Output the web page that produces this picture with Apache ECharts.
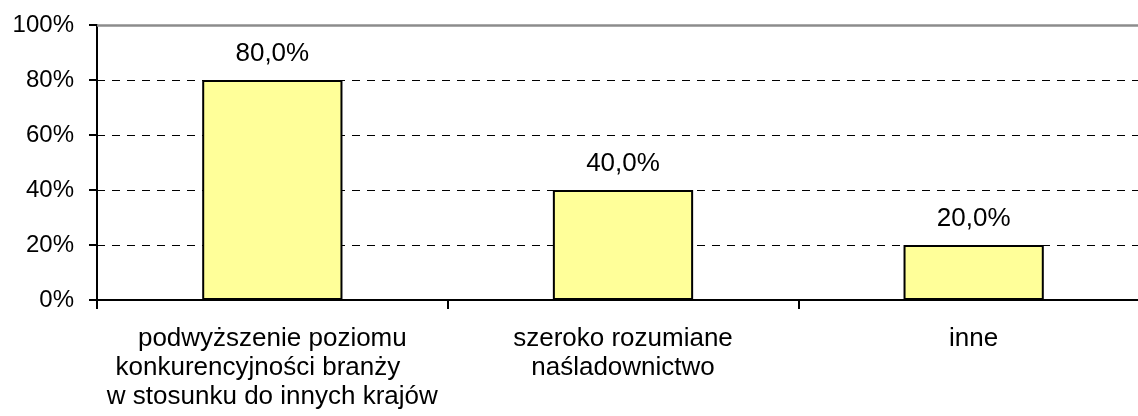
<!DOCTYPE html>
<html>
<head>
<meta charset="utf-8">
<script src="https://cdn.jsdelivr.net/npm/echarts@6/dist/echarts.min.js"></script>
<style>
  html, body { margin: 0; padding: 0; background: #fff; }
  #chart { width: 1138px; height: 416px; }
</style>
</head>
<body>
<div id="chart"></div>
<script>
// Category names (line breaks as in the axis labels)
const categories = [
  'podwyższenie poziomu\nkonkurencyjności branży    \nw stosunku do innych krajów',
  'szeroko rozumiane\nnaśladownictwo',
  'inne'
];
// Share of responses, in percent
const values = [80.0, 40.0, 20.0];
// Value axis range and step
const yMin = 0;
const yMax = 100;
const yStep = 20;

const FONT = '"Liberation Sans", Arial, sans-serif';

const chart = echarts.init(document.getElementById('chart'), null, { renderer: 'canvas' });

chart.setOption({
  animation: false,
  backgroundColor: '#ffffff',
  // the plot runs slightly past the right edge of the canvas
  grid: {
    left: 97, top: 25, width: 1052, height: 275,
    containLabel: false,
    outerBoundsMode: 'none'
  },
  xAxis: {
    type: 'category',
    data: categories,
    boundaryGap: true,
    axisLine: { show: true, lineStyle: { color: '#000', width: 2 } },
    axisTick: { show: true, length: 9, lineStyle: { color: '#000', width: 2 } },
    axisLabel: {
      interval: 0,
      margin: 24,
      color: '#000',
      fontFamily: FONT,
      fontSize: 26,
      lineHeight: 29,
      align: 'center',
      verticalAlign: 'top'
    },
    splitLine: { show: false }
  },
  yAxis: {
    type: 'value',
    min: yMin,
    max: yMax,
    interval: yStep,
    axisLine: { show: true, lineStyle: { color: '#000', width: 2 } },
    axisTick: { show: true, length: 8, lineStyle: { color: '#000', width: 2 } },
    axisLabel: {
      formatter: '{value}%',
      margin: 23,
      color: '#000',
      fontFamily: FONT,
      fontSize: 24
    },
    splitLine: {
      show: true,
      lineStyle: { color: '#000', width: 1, type: [8, 7] }
    }
  },
  series: [{
    type: 'bar',
    data: values,
    barWidth: '40%',
    itemStyle: { color: '#FFFF99', borderColor: '#000', borderWidth: 2 },
    label: {
      show: true,
      position: 'top',
      distance: 13,
      color: '#000',
      fontFamily: FONT,
      fontSize: 26,
      formatter: p => p.value.toFixed(1).replace('.', ',') + '%'
    },
    markLine: {
      silent: true,
      symbol: 'none',
      label: { show: false },
      lineStyle: { color: '#8c8c8c', type: 'solid', width: 2.5 },
      data: [{ yAxis: yMax }]
    }
  }]
});
</script>
</body>
</html>
